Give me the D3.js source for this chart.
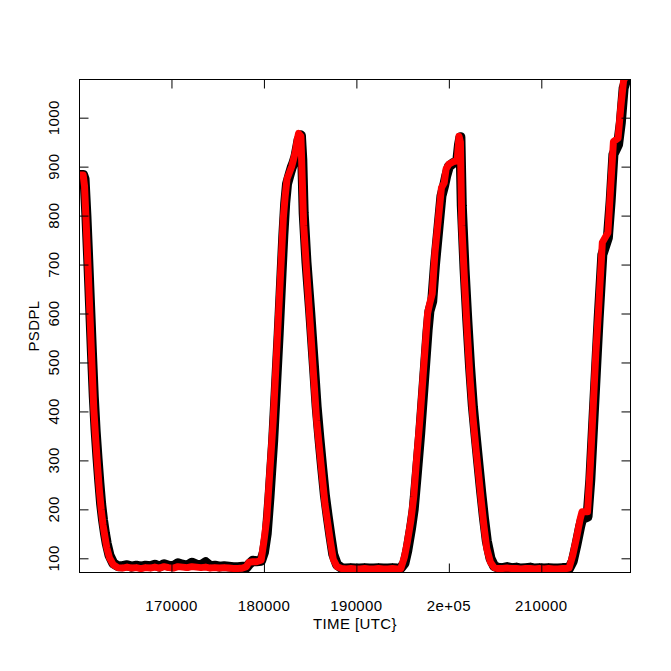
<!DOCTYPE html>
<html>
<head>
<meta charset="utf-8">
<script src="https://cdn.jsdelivr.net/npm/d3@7/dist/d3.min.js"></script>
<style>
  html, body { margin: 0; padding: 0; background: #fff; }
  svg { display: block; }
  text { font-family: "Liberation Sans", Arial, Helvetica, sans-serif; fill: #000; }
</style>
</head>
<body>
<svg id="chart" width="671" height="671"></svg>
<script>
// ---- data ----
const time = [
  160000,160450,160600,160800,161000,161200,161400,161600,161800,162000,162200,162400,162600,162800,163000,163300,163700,164200,
  164700,165200,165700,166200,166700,167200,167700,168200,168700,169200,169700,170200,170700,171200,171700,172200,172700,173200,173700,174200,174700,175200,175700,176200,176700,177200,177700,
  178100,178400,178800,179200,179700,180000,180300,180600,181000,181300,181600,181900,182100,182300,182500,182800,183000,183200,183400,183600,183750,184000,184150,184300,184600,185000,185400,185700,186000,186300,186600,186900,187200,187500,187900,
  188400,188900,189400,189900,190400,190900,191400,191900,192400,192900,193400,193900,194400,194800,
  195200,195500,195900,196200,196500,196900,197300,197700,197900,198200,198500,198900,199200,199500,199700,200000,200500,200900,201100,201250,201400,201700,202000,202300,202600,202900,203200,203500,203800,204100,204500,204900,
  205300,205800,206300,206800,207300,207800,208300,208800,209300,209800,210300,210800,211300,211800,212300,212700,
  213000,213400,213800,214200,214400,215000,215300,215600,215900,216200,216600,217200,217500,217800,218300,218600,218900,219300,219700
];
const psdplRed = [
  883,883,860,775,685,590,495,405,345,290,240,200,168,145,122,101,87,81,
  80,82,80,81,79,81,80,82,80,83,81,80,83,82,81,83,82,81,82,80,81,80,81,80,79,79,80,
  83,92,93,93,96,135,180,266,380,492,606,719,795,840,875,890,900,915,930,955,968,962,870,780,692,580,466,382,325,268,212,172,133,98,83,
  79,78,79,78,78,79,78,78,79,78,78,79,78,79,
  103,132,178,225,300,390,495,600,618,640,725,800,857,867,895,905,910,912,962,950,780,665,560,465,390,330,275,218,165,120,92,81,
  79,79,80,79,79,78,79,79,78,79,78,79,78,78,79,79,
  80,106,141,180,195,195,290,405,520,611,745,765,859,951,958,1022,1076,1090,1100
];
const psdplBlack = [
  883,883,875,800,710,615,520,430,360,305,255,210,178,152,130,106,90,84,
  84,86,83,85,83,85,84,87,83,88,85,84,90,87,85,91,87,86,92,84,85,83,84,83,82,82,83,
  81,88,95,94,95,112,150,225,340,450,560,680,760,825,865,885,898,908,920,940,955,964,915,805,705,605,495,410,345,285,228,185,145,108,87,
  80,79,80,79,79,80,79,79,80,79,79,80,79,80,
  90,115,160,200,265,355,460,565,605,625,700,780,840,862,880,900,908,910,945,960,820,690,585,490,410,350,292,235,182,136,100,84,
  81,80,82,80,81,79,80,81,79,80,79,80,79,79,80,80,
  79,94,128,165,180,185,260,370,480,590,720,755,830,925,945,990,1060,1085,1100
];
const xTicks = [170000, 180000, 190000, 200000, 210000];
const xTickLabels = ["170000", "180000", "190000", "2e+05", "210000"];
const yTicks = [100, 200, 300, 400, 500, 600, 700, 800, 900, 1000];
const xDomain = [160000, 219700];
const yDomain = [70, 1079];
const xTitle = "TIME [UTC}";
const yTitle = "PSDPL";

// ---- layout ----
const L = 79, R = 631, T = 79, B = 573;
const svg = d3.select("#chart");
const x = d3.scaleLinear().domain(xDomain).range([L, R]);
const y = d3.scaleLinear().domain(yDomain).range([B, T]);
const tick = 9.5;

svg.append("defs").append("clipPath").attr("id", "plotclip")
  .append("rect").attr("x", L).attr("y", T).attr("width", R - L).attr("height", B - T);

const redData = time.map((t, i) => ({ t, v: psdplRed[i] }));
const blackData = time.map((t, i) => ({ t, v: psdplBlack[i] }));
const line = d3.line().x(d => x(d.t)).y(d => y(d.v));

const g = svg.append("g").attr("clip-path", "url(#plotclip)");
g.append("path").datum(blackData).attr("d", line)
  .attr("fill", "none").attr("stroke", "#000").attr("stroke-width", 10)
  .attr("stroke-linejoin", "round").attr("stroke-linecap", "round");
g.append("path").datum(redData).attr("d", line)
  .attr("fill", "none").attr("stroke", "#ff0000").attr("stroke-width", 7)
  .attr("stroke-linejoin", "round").attr("stroke-linecap", "round");

// axes (inward ticks on all four sides)
function styleAxis(sel) {
  sel.selectAll("text").remove();
  sel.select(".domain").remove();
  sel.selectAll("line").attr("stroke", "#000").attr("stroke-width", 1);
}
svg.append("g").attr("transform", `translate(0,${B})`)
  .call(d3.axisBottom(x).tickValues(xTicks).tickSizeInner(-tick).tickSizeOuter(0)).call(styleAxis);
svg.append("g").attr("transform", `translate(0,${T})`)
  .call(d3.axisTop(x).tickValues(xTicks).tickSizeInner(-tick).tickSizeOuter(0)).call(styleAxis);
svg.append("g").attr("transform", `translate(${L},0)`)
  .call(d3.axisLeft(y).tickValues(yTicks).tickSizeInner(-tick).tickSizeOuter(0)).call(styleAxis);
svg.append("g").attr("transform", `translate(${R},0)`)
  .call(d3.axisRight(y).tickValues(yTicks).tickSizeInner(-tick).tickSizeOuter(0)).call(styleAxis);

// box
svg.append("rect").attr("x", L + 0.5).attr("y", T + 0.5)
  .attr("width", R - L - 1).attr("height", B - T - 1)
  .attr("fill", "none").attr("stroke", "#000").attr("stroke-width", 1);

// tick labels
const fs = 15;
svg.append("g").selectAll("text").data(xTicks).join("text")
  .attr("x", d => x(d)).attr("y", 610.5)
  .attr("text-anchor", "middle").attr("font-size", fs).attr("letter-spacing", 0.4)
  .text((d, i) => xTickLabels[i]);
svg.append("g").selectAll("text").data(yTicks).join("text")
  .attr("transform", d => `translate(58.5,${y(d)}) rotate(-90)`)
  .attr("text-anchor", "middle").attr("font-size", fs).attr("letter-spacing", 0.4)
  .text(d => String(d));

// titles
svg.append("text").attr("x", (L + R) / 2).attr("y", 629)
  .attr("text-anchor", "middle").attr("font-size", fs).attr("letter-spacing", 0.4)
  .text(xTitle);
svg.append("text").attr("transform", `translate(38.5,${(T + B) / 2}) rotate(-90)`)
  .attr("text-anchor", "middle").attr("font-size", fs).attr("letter-spacing", 0.4)
  .text(yTitle);
</script>
</body>
</html>
